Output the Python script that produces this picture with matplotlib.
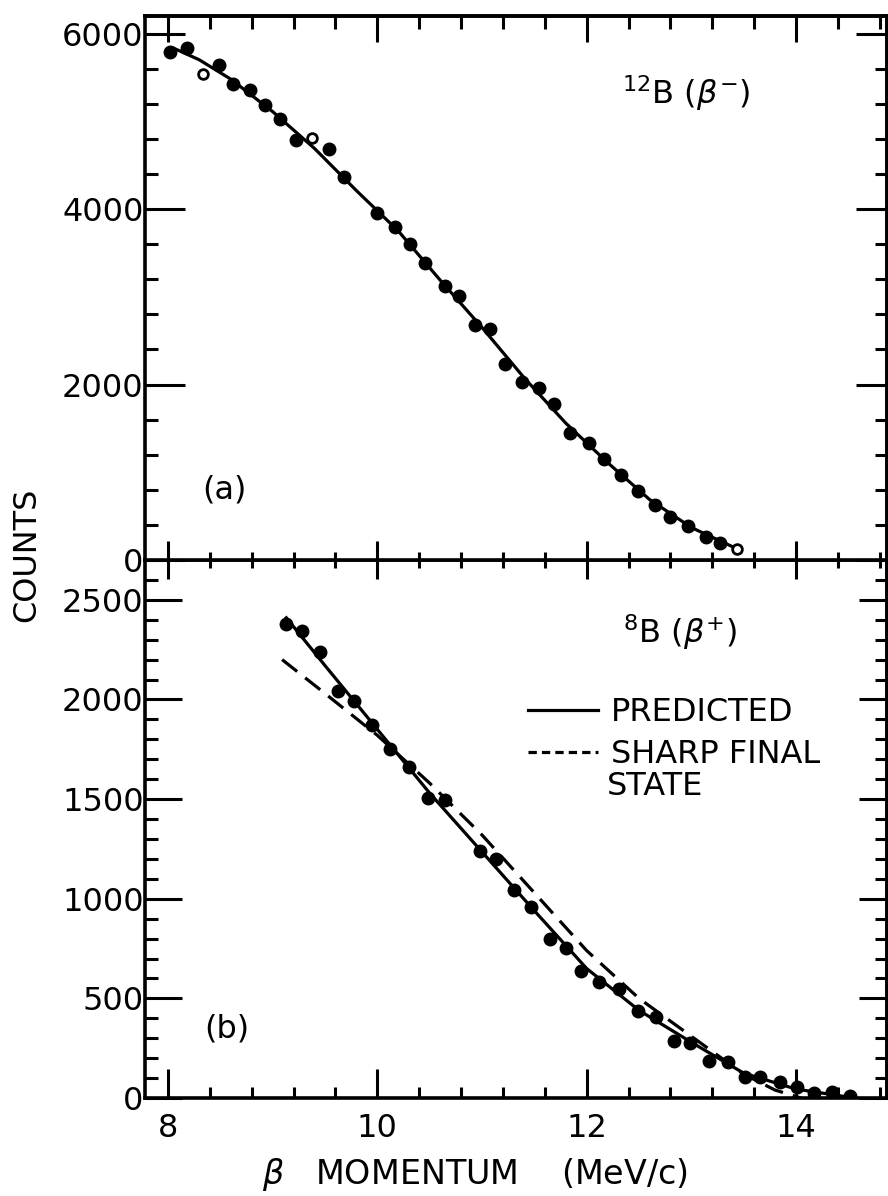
import matplotlib
matplotlib.use('Agg')
import matplotlib.pyplot as plt
from matplotlib.lines import Line2D
from matplotlib.ticker import MultipleLocator, FixedLocator

plt.rcParams['font.family'] = 'DejaVu Sans'
plt.rcParams['mathtext.fontset'] = 'dejavusans'

# (a) 12B beta- spectrum, measured points
b12_x = [8.02, 8.18, 8.49, 8.62, 8.78, 8.93, 9.07, 9.22, 9.54, 9.68, 10.00,
         10.17, 10.31, 10.46, 10.65, 10.78, 10.93, 11.08, 11.22, 11.38, 11.54,
         11.69, 11.84, 12.02, 12.17, 12.33, 12.49, 12.65, 12.80, 12.97, 13.14,
         13.27]
b12_y = [5790, 5830, 5640, 5430, 5360, 5190, 5030, 4790, 4690, 4370, 3950,
         3790, 3600, 3390, 3120, 3010, 2680, 2630, 2235, 2025, 1960,
         1780, 1450, 1335, 1150, 965, 785, 625, 485, 390, 260,
         195]
b12_open_x = [8.33, 9.38, 13.44]
b12_open_y = [5540, 4810, 120]

# (a) fitted curve
b12_fit_x = [8.06, 8.3, 8.6, 9.0, 9.4, 9.8, 10.2, 10.6, 11.0, 11.4, 11.8,
             12.2, 12.6, 13.0, 13.45]
b12_fit_y = [5830, 5700, 5480, 5110, 4690, 4210, 3750, 3190, 2650, 2080, 1560,
             1110, 690, 370, 120]

# (b) 8B beta+ spectrum, measured points
b8_x = [9.13, 9.28, 9.45, 9.62, 9.78, 9.95, 10.12, 10.30, 10.48, 10.65,
        10.98, 11.13, 11.31, 11.47, 11.65, 11.80, 11.95, 12.12, 12.31, 12.49,
        12.66, 12.83, 12.99, 13.17, 13.35, 13.51, 13.66, 13.85, 14.01, 14.17,
        14.34, 14.52]
b8_y = [2380, 2345, 2240, 2040, 1990, 1870, 1750, 1660, 1505, 1495,
        1240, 1200, 1045, 960, 800, 755, 640, 580, 545, 435,
        405, 285, 278, 188, 182, 105, 105, 80, 55, 25,
        30, 8]

# (b) predicted and sharp final state curves
pred_x = [9.13, 9.5, 10.0, 10.5, 11.0, 11.5, 12.0, 12.5, 13.0, 13.5, 14.0, 14.5]
pred_y = [2410, 2170, 1850, 1530, 1235, 940, 650, 440, 280, 125, 45, 5]
sharp_x = [9.09, 9.5, 10.0, 10.5, 11.0, 11.5, 12.0, 12.5, 13.0, 13.5, 13.8, 14.05]
sharp_y = [2200, 2030, 1820, 1580, 1320, 1030, 740, 500, 310, 120, 40, 0]

x_major = [8, 10, 12, 14]
x_labels = ['8', '10', '12', '14']
top_yticks = [0, 2000, 4000, 6000]
bot_yticks = [0, 500, 1000, 1500, 2000, 2500]

fs = 23
lw = 2.3

fig = plt.figure(figsize=(8.88, 11.96), dpi=100)
ax2 = fig.add_axes([0.1633, 0.0819, 0.8356, 0.4499])
ax1 = fig.add_axes([0.1633, 0.5318, 0.8356, 0.4548])
ax2.set_facecolor('none')

for ax in (ax1, ax2):
    for s in ax.spines.values():
        s.set_linewidth(2.6)
    ax.set_xlim(7.78, 14.87)
    ax.xaxis.set_major_locator(FixedLocator(x_major))
    ax.xaxis.set_minor_locator(MultipleLocator(0.4))

# ---- top panel
ax1.set_ylim(0, 6200)
ax1.plot(b12_fit_x, b12_fit_y, color='black', lw=lw)
ax1.plot(b12_x, b12_y, 'o', color='black', ms=9)
ax1.plot(b12_open_x, b12_open_y, 'o', mfc='white', mec='black', ms=7, mew=2)

ax1.set_yticks(top_yticks)
ax1.set_yticklabels([str(v) for v in top_yticks], fontsize=fs)
ax1.yaxis.set_minor_locator(MultipleLocator(400))
ax1.tick_params(axis='y', which='major', direction='in', length=29, width=2.2, pad=1)
ax1.tick_params(axis='y', which='minor', direction='in', length=9.4, width=2.2)
ax1.tick_params(axis='x', which='major', direction='inout', length=27, width=2.2,
                labelbottom=False)
ax1.tick_params(axis='x', which='minor', direction='inout', length=11, width=2.2)

sec = ax1.secondary_yaxis('right')
sec.set_yticks(top_yticks)
sec.yaxis.set_minor_locator(MultipleLocator(400))
sec.tick_params(which='major', direction='in', length=22, width=2.2, labelright=False)
sec.tick_params(which='minor', direction='in', length=8.6, width=2.2)
sec.spines['right'].set_linewidth(2.6)

sec = ax1.secondary_xaxis('top')
sec.set_xticks(x_major)
sec.xaxis.set_minor_locator(MultipleLocator(0.4))
sec.tick_params(which='major', direction='in', length=18.7, width=2.2, labeltop=False)
sec.tick_params(which='minor', direction='in', length=9.4, width=2.2)
sec.spines['top'].set_linewidth(2.6)

ax1.text(12.34, 5200, r'$^{12}$B ($\beta^{-}$)', fontsize=fs, ha='left', va='baseline')
ax1.text(8.54, 797, '(a)', fontsize=fs, ha='center', va='center')

# ---- bottom panel
ax2.set_ylim(0, 2700)
pred_line, = ax2.plot(pred_x, pred_y, color='black', lw=lw)
ax2.plot(sharp_x, sharp_y, color='black', lw=lw, dashes=(6, 3.2))
ax2.plot(b8_x, b8_y, 'o', color='black', ms=9)

ax2.set_xticks(x_major)
ax2.set_xticklabels(x_labels, fontsize=fs)
ax2.set_yticks(bot_yticks)
ax2.set_yticklabels([str(v) for v in bot_yticks], fontsize=fs)
ax2.yaxis.set_minor_locator(MultipleLocator(100))
ax2.tick_params(axis='x', which='major', direction='in', length=21, width=2.2, pad=11, top=False)
ax2.tick_params(axis='x', which='minor', direction='in', length=8, width=2.2, top=False)
ax2.tick_params(axis='y', which='major', direction='in', length=26.6, width=2.2, pad=1)
ax2.tick_params(axis='y', which='minor', direction='in', length=9.4, width=2.2)

sec = ax2.secondary_yaxis('right')
sec.set_yticks(bot_yticks)
sec.yaxis.set_minor_locator(MultipleLocator(100))
sec.tick_params(which='major', direction='in', length=20, width=2.2, labelright=False)
sec.tick_params(which='minor', direction='in', length=8.6, width=2.2)
sec.spines['right'].set_linewidth(2.6)

ax2.text(12.35, 2284, r'$^{8}$B ($\beta^{+}$)', fontsize=fs, ha='left', va='baseline')
ax2.text(8.56, 346, '(b)', fontsize=fs, ha='center', va='center')

# legend sample with short dashes, as drawn in the original key
sharp_key = Line2D([], [], color='black', lw=lw, dashes=(2.6, 1.6))
ax2.legend([pred_line, sharp_key], ['PREDICTED', 'SHARP FINAL'],
           loc='upper left', bbox_to_anchor=(0.516, 0.745), frameon=False,
           fontsize=fs, borderpad=0, borderaxespad=0, handlelength=2.2,
           handletextpad=0.4, labelspacing=0.35)
ax2.text(12.19, 1521, 'STATE', fontsize=fs, ha='left', va='baseline')

fig.text(0.030, 0.536, 'COUNTS', fontsize=fs, rotation=90, ha='center', va='center')
fig.text(0.535, 0.018, r'$\beta$   MOMENTUM    (MeV/c)', fontsize=24,
         ha='center', va='center')

fig.savefig('out.png', dpi=100)
